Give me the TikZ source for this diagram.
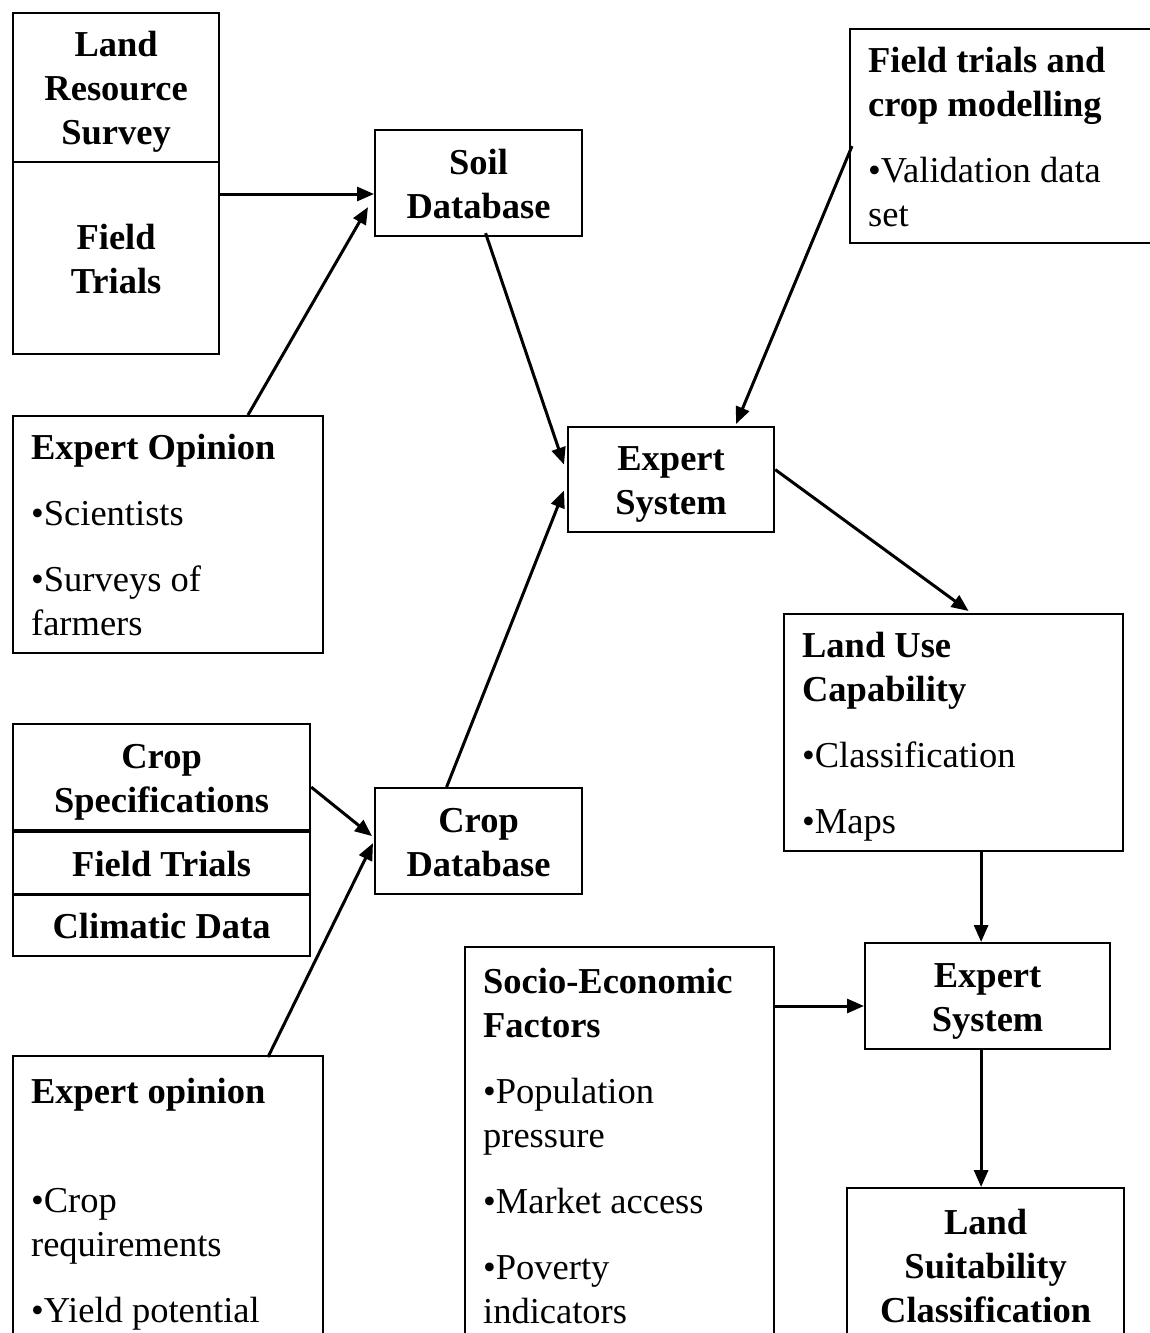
\documentclass[tikz,border=0pt]{standalone}
\usepackage{fontspec}
\setmainfont{Liberation Serif}
\usetikzlibrary{arrows.meta,calc}
\newcommand{\lst}{\rule[-9pt]{0pt}{44pt}}
\begin{document}
\begin{tikzpicture}[x=1pt,y=-1pt,
  box/.style={draw,line width=2.2pt,inner sep=0pt,anchor=north west,font=\fontsize{36.5pt}{44pt}\selectfont},
  cbox/.style={box,align=flush center,font=\fontsize{36.5pt}{44pt}\selectfont\bfseries},
  lbox/.style={box,align=flush left,inner xsep=18pt},
  arr/.style={line width=3pt,-{Triangle[length=17pt,width=14pt]}}]
\clip (0,0) rectangle (1150,1333);
\fill[white] (0,0) rectangle (1150,1333);
\node[cbox,minimum width=206pt,minimum height=149pt] (lrs) at (12,12) {\lst Land\\Resource\\Survey\lst};
\node[cbox,minimum width=206pt,minimum height=192pt] (ft1) at (12,161) {\lst Field\\Trials\lst};
\node[cbox,minimum width=207pt,minimum height=106pt] (soil) at (374,129) {\lst Soil\\Database\lst};
\node[lbox,minimum width=320pt,text width=284pt,minimum height=214pt] (ftcm) at (849,28) {\lst\textbf{Field trials and}\\\textbf{crop modelling}\\[22pt]•Validation data\\set\lst};
\node[lbox,minimum width=310pt,text width=274pt,minimum height=237pt] (eo1) at (12,415) {\lst\textbf{Expert Opinion}\\[22pt]•Scientists\\[22pt]•Surveys of\\farmers\lst};
\node[cbox,minimum width=206pt,minimum height=105pt] (es1) at (567,426) {\lst Expert\\System\lst};
\node[lbox,minimum width=339pt,text width=303pt,minimum height=237pt] (luc) at (783,613) {\lst\textbf{Land Use}\\\textbf{Capability}\\[22pt]•Classification\\[22pt]•Maps\lst};
\node[cbox,minimum width=297pt,minimum height=106pt] (cs) at (12,723) {\lst Crop\\Specifications\lst};
\node[cbox,minimum width=297pt,minimum height=62pt] (ftr) at (12,831) {\lst Field Trials};
\node[cbox,minimum width=297pt,minimum height=61pt] (cd) at (12,894) {\lst Climatic Data};
\node[cbox,minimum width=207pt,minimum height=106pt] (cdb) at (374,787) {\lst Crop\\Database\lst};
\node[lbox,minimum width=309pt,text width=273pt,minimum height=396pt] (se) at (464,946) {\lst\textbf{Socio-Economic}\\\textbf{Factors}\\[22pt]•Population\\pressure\\[22pt]•Market access\\[22pt]•Poverty\\indicators\lst};
\node[cbox,minimum width=245pt,minimum height=106pt] (es2) at (864,942) {\lst Expert\\System\lst};
\node[cbox,minimum width=277pt,minimum height=154pt] (ls) at (846,1187) {\lst Land\\Suitability\\Classification\lst};
\node[lbox,minimum width=310pt,text width=274pt,minimum height=287pt] (eo2) at (12,1055) {\lst\textbf{Expert opinion}\\[65pt]•Crop\\requirements\\[22pt]•Yield potential\lst};
\draw[arr] ([yshift=-33pt]ft1.north east) -- ([yshift=-33pt]ft1.north east -| soil.west);
\draw[arr] ([xshift=236pt]eo1.north west) -- ([xshift=-6pt,yshift=-24pt]soil.west);
\draw[arr] ([xshift=7pt,yshift=4pt]soil.south) -- ([xshift=-3pt,yshift=15pt]es1.west);
\draw[arr] ([xshift=3pt,yshift=-10pt]ftcm.west) -- ([xshift=65pt,yshift=2pt]es1.north);
\draw[arr] ([xshift=-32pt]cdb.north) -- ([xshift=-3pt,yshift=-11pt]es1.west);
\draw[arr] ([yshift=10pt]es1.east) -- ([xshift=15pt,yshift=2pt]luc.north);
\draw[arr] ([yshift=-10pt]cs.east) -- ([xshift=-2pt,yshift=5pt]cdb.west);
\draw[arr] ([xshift=256pt,yshift=-2pt]eo2.north west) -- ([xshift=-1pt,yshift=-2pt]cdb.west);
\draw[arr] ([xshift=27.5pt]luc.south) -- ([xshift=27.5pt]luc.south |- es2.north);
\draw[arr] ([yshift=-60pt]se.north east) -- ([yshift=-60pt]se.north east -| es2.west);
\draw[arr] ([xshift=-6.5pt]es2.south) -- ([xshift=-6.5pt]es2.south |- ls.north);
\end{tikzpicture}
\end{document}
